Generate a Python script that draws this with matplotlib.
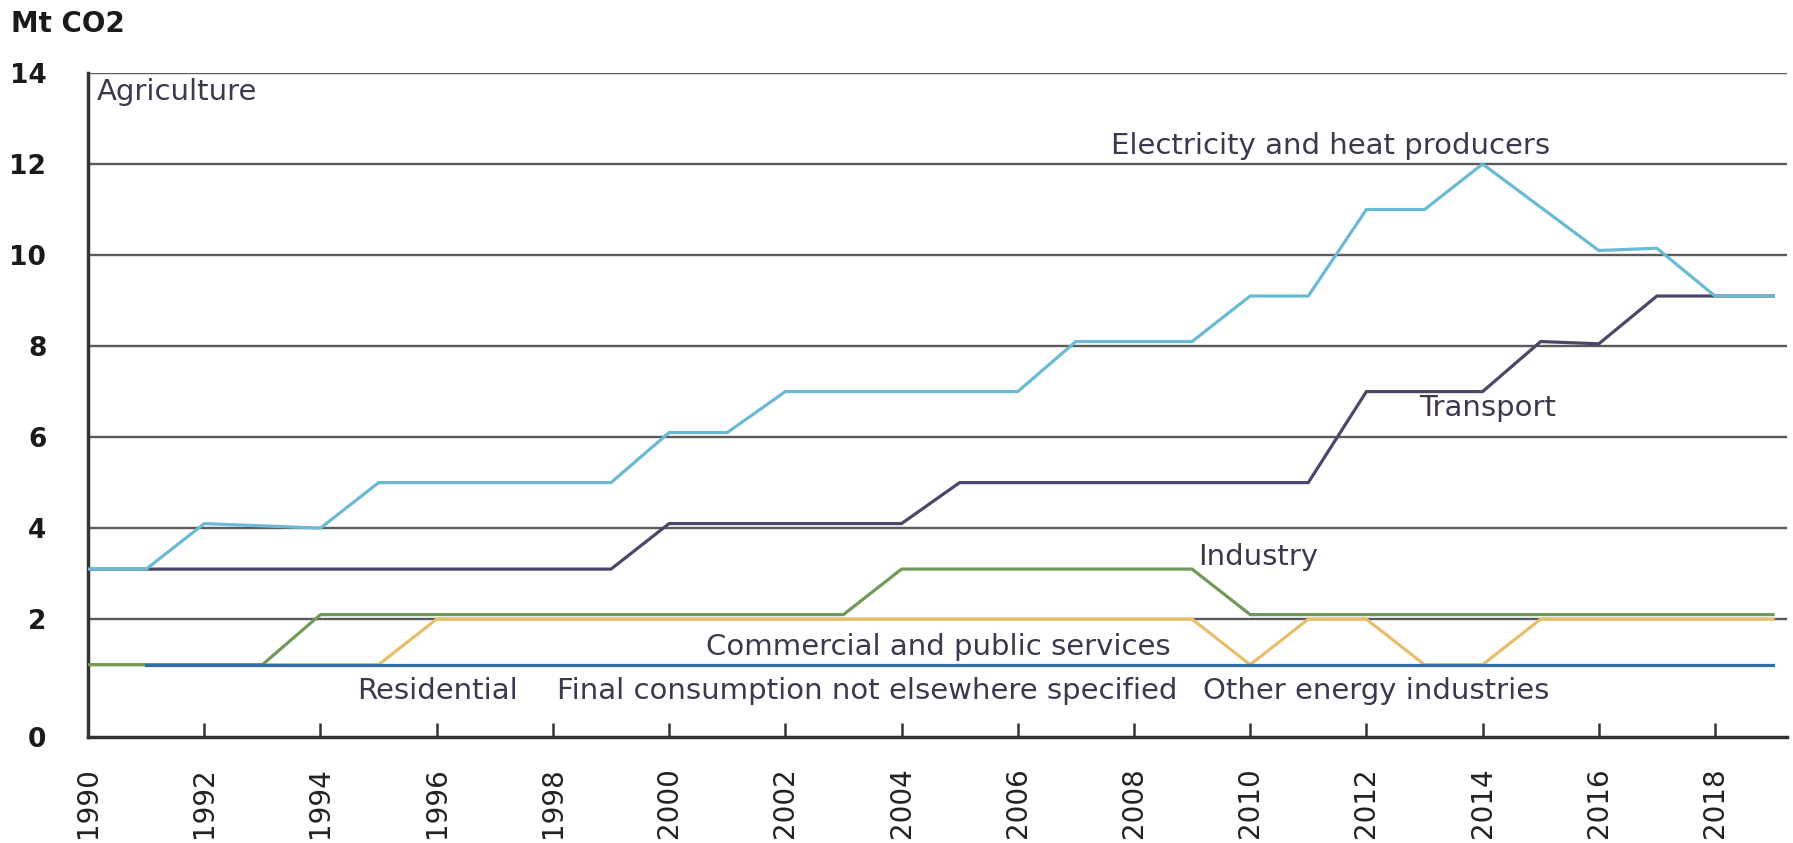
import numpy as np
import matplotlib
matplotlib.use("Agg")
import matplotlib.pyplot as plt

plt.rcParams['font.family'] = ['DejaVu Sans']

# Datos (Mt CO2)
years = list(range(1990, 2020))
electricity = [3.1, 3.1, 4.1, 4.05, 4.0, 5.0, 5.0, 5.0, 5.0, 5.0,
               6.1, 6.1, 7.0, 7.0, 7.0, 7.0, 7.0, 8.1, 8.1, 8.1,
               9.1, 9.1, 11.0, 11.0, 12.0, 11.05, 10.1, 10.15, 9.1, 9.1]
transport = [3.1, 3.1, 3.1, 3.1, 3.1, 3.1, 3.1, 3.1, 3.1, 3.1,
             4.1, 4.1, 4.1, 4.1, 4.1, 5.0, 5.0, 5.0, 5.0, 5.0,
             5.0, 5.0, 7.0, 7.0, 7.0, 8.1, 8.05, 9.1, 9.1, 9.1]
industry = [1.0, 1.0, 1.0, 1.0, 2.1, 2.1, 2.1, 2.1, 2.1, 2.1,
            2.1, 2.1, 2.1, 2.1, 3.1, 3.1, 3.1, 3.1, 3.1, 3.1,
            2.1, 2.1, 2.1, 2.1, 2.1, 2.1, 2.1, 2.1, 2.1, 2.1]
residential = [1.0, 1.0, 1.0, 1.0, 1.0, 1.0, 2.0, 2.0, 2.0, 2.0,
               2.0, 2.0, 2.0, 2.0, 2.0, 2.0, 2.0, 2.0, 2.0, 2.0,
               1.0, 2.0, 2.0, 1.0, 1.0, 2.0, 2.0, 2.0, 2.0, 2.0]
commercial = [np.nan] + [1.0] * 29

x_ticks = list(range(1992, 2019, 2))
y_ticks = [2, 4, 6, 8, 10, 12, 14]

# Etiquetas: (texto, x, y)
labels = [
    ("Agriculture", 1990.15, 13.58),
    ("Electricity and heat producers", 2007.6, 12.4),
    ("Transport", 2012.9, 6.64),
    ("Industry", 2009.1, 3.36),
    ("Commercial and public services", 2000.63, 1.38),
    ("Residential", 1994.63, 0.42),
    ("Final consumption not elsewhere specified", 1998.07, 0.42),
    ("Other energy industries", 2009.19, 0.42),
]

fig = plt.figure(figsize=(17.93, 8.43), dpi=100)
ax = fig.add_axes([0.0491, 0.1257, 0.9476, 0.7877])

y_bottom = -0.59
ax.set_xlim(1990, 2019.24)
ax.set_ylim(y_bottom, 14)

# Rejilla horizontal
for g in y_ticks:
    ax.axhline(g, color="#5a5a5a", lw=1.7, zorder=1)

lw = 2.3
ax.plot(years, residential, color="#E8BE6A", lw=lw, zorder=2)
ax.plot(years, industry, color="#6F9A58", lw=lw, zorder=3)
ax.plot(years, commercial, color="#2F6EA8", lw=lw, zorder=4)
ax.plot(years, transport, color="#4A4868", lw=lw, zorder=5)
ax.plot(years, electricity, color="#6BBAD3", lw=lw, zorder=6)

text_color = "#3A3A4E"
for txt, x, y in labels:
    ax.text(x, y, txt, fontsize=21, color=text_color, ha="left", va="center", zorder=7)

# Ejes
for side in ["top", "right"]:
    ax.spines[side].set_visible(False)
ax.spines["left"].set_color("#333333")
ax.spines["left"].set_linewidth(2.5)
ax.spines["bottom"].set_color("#333333")
ax.spines["bottom"].set_linewidth(2.5)

ax.set_xticks([1990] + x_ticks)
ax.set_xticklabels([str(y) for y in [1990] + x_ticks], rotation=90, fontsize=20, color="#222222")
ax.tick_params(axis="x", direction="in", length=10, width=1.8, color="#333333", pad=22)
ax.xaxis.get_major_ticks()[0].tick1line.set_visible(False)

ax.set_yticks([y_bottom] + y_ticks)
ax.set_yticklabels(["0"] + [str(v) for v in y_ticks], fontsize=19, fontweight="bold", color="#1a1a1a")
for lab in ax.get_yticklabels():
    lab.set_horizontalalignment("right")
ax.tick_params(axis="y", length=0, pad=30)

fig.text(0.006, 0.988, "Mt CO2", fontsize=20, fontweight="bold", color="#1a1a1a", ha="left", va="top")

fig.savefig("out.png", dpi=100)
